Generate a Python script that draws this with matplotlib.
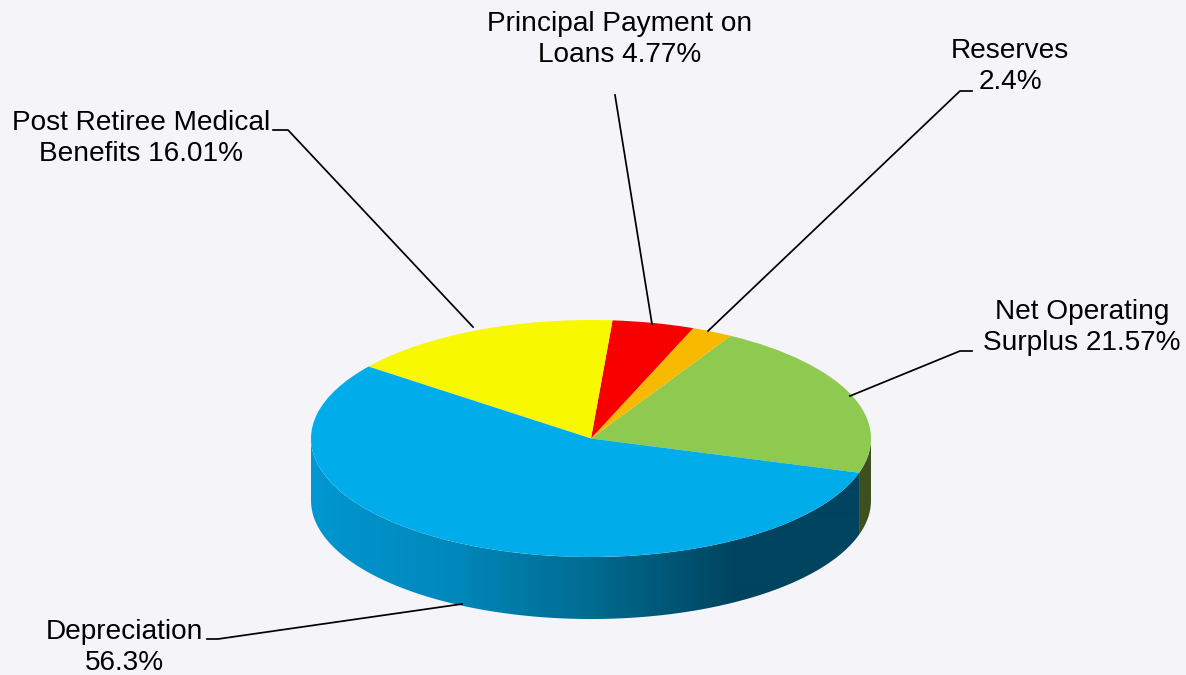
import numpy as np
import matplotlib
matplotlib.use('Agg')
import matplotlib.pyplot as plt
from matplotlib.colors import LinearSegmentedColormap
from matplotlib.patches import Polygon

plt.rcParams['font.family'] = ['Liberation Sans', 'DejaVu Sans']

# slices, counter-clockwise from the front right edge
names = ['Net Operating\nSurplus', 'Reserves', 'Principal Payment on\nLoans',
         'Post Retiree Medical\nBenefits', 'Depreciation']
values = [21.57, 2.4, 4.77, 16.01, 56.3]
colors = ['#8FCA50', '#F8BA00', '#F80000', '#F8F800', '#00ADEA']
labels = [f'{n} {v}%' if n != 'Reserves' and n != 'Depreciation' else f'{n}\n{v}%'
          for n, v in zip(names, values)]

W, H = 1186, 675
BG = '#F5F5F9'
cx, cy, rx, ry = 591, 438.5, 280, 118.5
depth = 62 / ry
extra = 70  # room under the disc for the rim, in pixels
start = -16.8

fig = plt.figure(figsize=(W / 100, H / 100), dpi=100, facecolor=BG)
ax = fig.add_axes([(cx - rx) / W, 1 - (cy + ry + extra) / H, 2 * rx / W, (2 * ry + extra) / H])

# angles of slice edges, same normalisation pie() uses
edges = start + np.concatenate([[0], np.cumsum(values)]) / np.sum(values) * 360


def side_polygon(a0, a1):
    t = np.radians(np.linspace(a0, a1, 200))
    x, y = np.cos(t), np.sin(t)
    return np.column_stack([np.r_[x, x[::-1]], np.r_[y, y[::-1] - depth]])


wedges, _ = ax.pie(values, colors=colors, startangle=start, radius=1, center=(0, 0),
                   wedgeprops={'linewidth': 0, 'zorder': 2})
ax.set_aspect('auto')

# rim of the disc: only the part that faces the viewer
rim = LinearSegmentedColormap.from_list('rim', [
    (0.0, '#0097D0'), (0.25, '#0088BC'), (0.5, '#006B90'),
    (0.76, '#00445F'), (1.0, '#00445F')])
ybottom = -1 - extra / ry
img = ax.imshow(np.linspace(0, 1, 560)[None, :], cmap=rim, extent=(-1, 1, ybottom, 1),
                aspect='auto', zorder=1, interpolation='bilinear')
clip = Polygon(side_polygon(180, edges[-1]), closed=True, transform=ax.transData,
               facecolor='none', edgecolor='none')
ax.add_patch(clip)
img.set_clip_path(clip)

ax.add_patch(Polygon(side_polygon(edges[0], 0), closed=True, facecolor='#3E5020',
                     edgecolor='none', zorder=1))

ax.set_xlim(-1, 1)
ax.set_ylim(ybottom, 1)
ax.axis('off')

# labels and leader lines in pixel coordinates
over = fig.add_axes([0, 0, 1, 1], facecolor='none')
over.set_xlim(0, W)
over.set_ylim(H, 0)
over.axis('off')

label_pos = [(1082, 327.5), (1010, 66.5), (620, 39.5), (141, 138.5), (124.5, 647.5)]
leaders = [
    [(972, 351), (960, 351), (850, 396)],
    [(972, 91), (960, 91), (708, 331)],
    [(615, 95), (652, 324)],
    [(273, 130), (288, 130), (473, 327)],
    [(207, 639), (218, 639), (462, 604)],
]
for lab, (tx, ty), pts in zip(labels, label_pos, leaders):
    over.text(tx, ty, lab, ha='center', va='center', fontsize=20.15, color='black',
              linespacing=1.26)
    px, py = zip(*pts)
    over.plot(px, py, color='black', lw=1.25, solid_joinstyle='round')

fig.savefig('out.png', dpi=100, facecolor=BG)
